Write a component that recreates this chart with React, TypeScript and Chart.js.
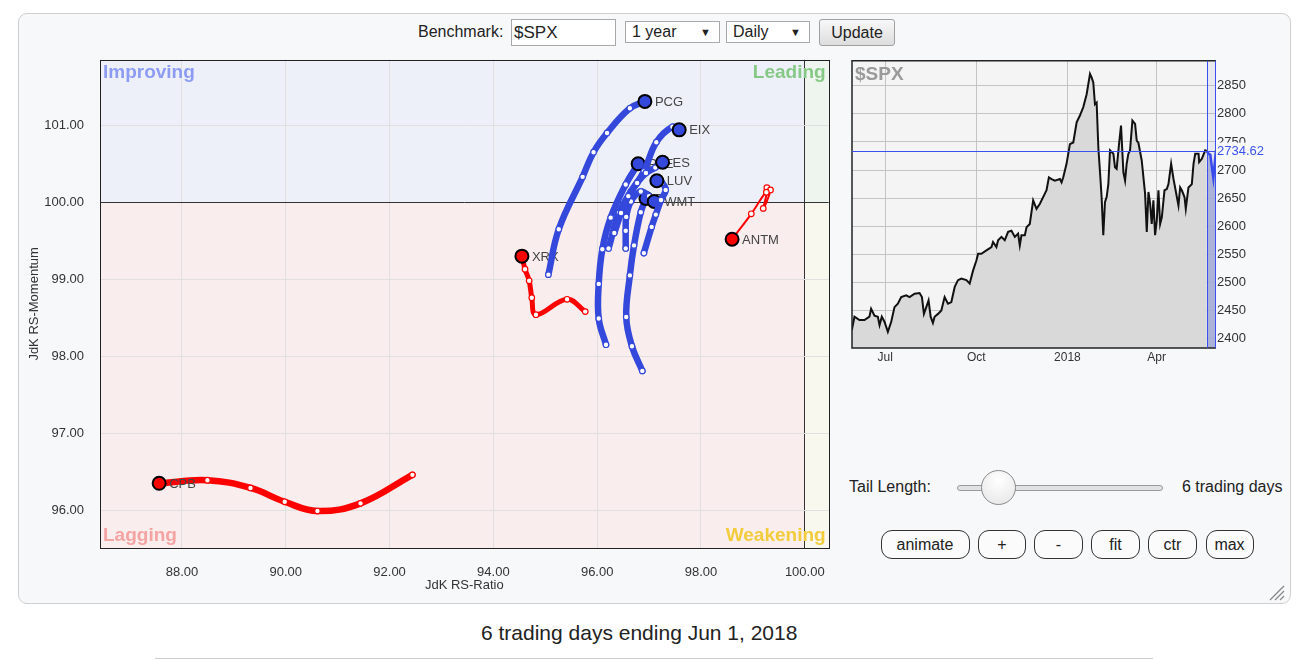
import React, { useEffect, useRef } from 'react';
import { Chart, registerables } from 'chart.js';

Chart.register(...registerables);

const FONT = "'Liberation Sans', Arial, Helvetica, sans-serif";

// ---------------- RRG data ----------------
const ratioTicks = [88, 90, 92, 94, 96, 98, 100];
const momentumTicks = [96, 97, 98, 99, 100, 101];

const pcgRatio = [95.06, 95.26, 95.72, 95.93, 96.19, 96.63, 96.92];
const pcgMomentum = [99.06, 99.65, 100.33, 100.65, 100.9, 101.22, 101.31];

const eixRatio = [96.22, 96.42, 96.65, 96.9, 97.14, 97.45, 97.58];
const eixMomentum = [99.4, 99.86, 100.14, 100.4, 100.78, 100.98, 100.94];

const esRatio = [96.33, 96.46, 96.6, 96.77, 96.94, 97.12, 97.26];
const esMomentum = [99.6, 99.86, 100.08, 100.25, 100.38, 100.45, 100.52];

const pfeRatio = [96.17, 96.03, 96.03, 96.1, 96.26, 96.55, 96.79];
const pfeMomentum = [98.15, 98.49, 98.94, 99.39, 99.8, 100.23, 100.5];

const luvRatio = [96.9, 97.05, 97.13, 97.23, 97.32, 97.25, 97.15];
const luvMomentum = [99.34, 99.68, 99.84, 100.03, 100.16, 100.25, 100.28];

const wmtRatio = [96.55, 96.55, 96.56, 96.65, 96.84, 97.0, 97.1];
const wmtMomentum = [99.4, 99.63, 99.81, 100.01, 100.14, 100.08, 100.01];

const tRatio = [96.87, 96.67, 96.56, 96.63, 96.71, 96.84, 96.94];
const tMomentum = [97.81, 98.13, 98.51, 99.05, 99.44, 99.87, 100.05];

const antmRatio = [99.27, 99.34, 99.2, 99.26, 98.97, 98.6];
const antmMomentum = [100.19, 100.16, 99.92, 100.13, 99.85, 99.52];

const xrxRatio = [95.77, 95.42, 94.82, 94.74, 94.69, 94.61, 94.55];
const xrxMomentum = [98.58, 98.74, 98.54, 98.76, 98.98, 99.13, 99.3];

const cpbRatio = [92.44, 91.44, 90.61, 89.98, 89.32, 88.49, 87.56];
const cpbMomentum = [96.46, 96.09, 95.99, 96.11, 96.29, 96.39, 96.35];

const BLUE = '#3448dc';
const RED = '#ff0000';

const series = [
  { name: 'ES', ratio: esRatio, momentum: esMomentum, color: BLUE, width: 6.5 },
  { name: 'PCG', ratio: pcgRatio, momentum: pcgMomentum, color: BLUE, width: 6.5 },
  { name: 'EIX', ratio: eixRatio, momentum: eixMomentum, color: BLUE, width: 6.5 },
  { name: 'LUV', ratio: luvRatio, momentum: luvMomentum, color: BLUE, width: 6.5 },
  { name: 'WMT', ratio: wmtRatio, momentum: wmtMomentum, color: BLUE, width: 6.5 },
  { name: 'T', ratio: tRatio, momentum: tMomentum, color: BLUE, width: 6.5 },
  { name: 'PFE', ratio: pfeRatio, momentum: pfeMomentum, color: BLUE, width: 6.5 },
  { name: 'ANTM', ratio: antmRatio, momentum: antmMomentum, color: RED, width: 2 },
  { name: 'XRX', ratio: xrxRatio, momentum: xrxMomentum, color: RED, width: 5 },
  { name: 'CPB', ratio: cpbRatio, momentum: cpbMomentum, color: RED, width: 6.5 },
];

// ---------------- $SPX data ----------------
const spxTickDays = [0, 92, 184, 274];
const spxTickLabels = ['Jul', 'Oct', '2018', 'Apr'];
const spxPriceTicks = [2400, 2450, 2500, 2550, 2600, 2650, 2700, 2750, 2800, 2850];

const spxDay = [
  -33.7, -31, -26, -20.9, -15.9, -14.2, -10.8, -7.4, -5.7, -3.4,
  -0.7, 2.7, 6.1, 9.4, 12.8, 16.2, 21.2, 24.6, 29.7, 34.7,
  37.1, 39.1, 41.5, 43.8, 45.9, 48.2, 49.9, 53.3, 56.7, 60,
  63.4, 66.8, 70.2, 73.5, 76.9, 82, 85.3, 88.7, 92.1, 93.8,
  97.1, 102.2, 107.3, 108.9, 112.3, 114, 117.4, 120.7, 124.1, 127.5,
  130.9, 134.2, 135.9, 137.6, 141, 142.7, 146, 149.4, 152.8, 156.2,
  161.2, 162.9, 165.3, 168, 171.3, 176.4, 178.1, 179.8, 183.1, 186.5,
  189.9, 193.3, 196.6, 200, 203.4, 206.8, 208.4, 210.1, 211.8, 213.5,
  215.2, 216.9, 218.5, 220.2, 221.9, 223.6, 225.3, 227, 230.4, 232,
  233.7, 236.1, 238.1, 240.5, 242.2, 243.8, 245.5, 247.2, 249.6, 252.3,
  254, 255.6, 259, 262.4, 264.1, 265.8, 267.5, 269.1, 270.8, 272.5,
  274.2, 275.9, 277.6, 279.3, 282, 284.3, 286, 288.7, 291.1, 292.7,
  296.1, 297.8, 299.5, 302.2, 303.5, 306.2, 309.6, 311.3, 313, 316.4,
  317, 319.7, 323.1,
];
const spxClose = [
  2415, 2439, 2433, 2433, 2439, 2453, 2441, 2439, 2424, 2439,
  2430, 2412, 2430, 2456, 2462, 2474, 2477, 2474, 2480, 2481,
  2474, 2444, 2456, 2468, 2439, 2428, 2439, 2444, 2450, 2474,
  2462, 2465, 2492, 2504, 2507, 2504, 2498, 2521, 2539, 2551,
  2551, 2557, 2563, 2572, 2563, 2575, 2581, 2575, 2590, 2592,
  2581, 2587, 2566, 2584, 2584, 2598, 2604, 2646, 2631, 2640,
  2658, 2664, 2687, 2684, 2681, 2684, 2678, 2687, 2711, 2746,
  2749, 2785, 2797, 2812, 2835, 2871, 2865, 2856, 2817, 2820,
  2740, 2696, 2652, 2584, 2643, 2652, 2675, 2735, 2729, 2705,
  2702, 2746, 2779, 2696, 2681, 2711, 2729, 2735, 2788, 2782,
  2752, 2749, 2717, 2658, 2590, 2661, 2640, 2604, 2646, 2584,
  2610, 2664, 2604, 2616, 2664, 2666, 2675, 2711, 2684, 2669,
  2637, 2669, 2664, 2652, 2631, 2669, 2675, 2711, 2729, 2729,
  2714, 2720, 2735,
];
const tailDay = [324.6, 326.5, 328.3, 330.2, 331.3, 333.9];
const tailClose = [2734, 2729, 2727, 2700, 2686, 2734.62];

// ---------------- RRG chart ----------------
const rrgPlugin = {
  id: 'rrgDecor',
  beforeDraw(chart: any) {
    const { ctx, chartArea: a, scales } = chart;
    const cx = scales.x.getPixelForValue(100);
    const cy = scales.y.getPixelForValue(100);
    ctx.save();
    ctx.fillStyle = '#eef0f9';
    ctx.fillRect(a.left, a.top, cx - a.left, cy - a.top);
    ctx.fillStyle = '#eef5ee';
    ctx.fillRect(cx, a.top, a.right - cx, cy - a.top);
    ctx.fillStyle = '#f9eded';
    ctx.fillRect(a.left, cy, cx - a.left, a.bottom - cy);
    ctx.fillStyle = '#f9f8ee';
    ctx.fillRect(cx, cy, a.right - cx, a.bottom - cy);
    ctx.restore();
  },
  beforeDatasetsDraw(chart: any) {
    const { ctx, chartArea: a } = chart;
    ctx.save();
    ctx.font = `bold 19px ${FONT}`;
    ctx.textBaseline = 'middle';
    ctx.textAlign = 'left';
    ctx.fillStyle = '#8d9cf2';
    ctx.fillText('Improving', a.left + 3, a.top + 13);
    ctx.fillStyle = '#f5a3a3';
    ctx.fillText('Lagging', a.left + 3, a.bottom - 12);
    ctx.textAlign = 'right';
    ctx.fillStyle = '#86c986';
    ctx.fillText('Leading', a.right - 3, a.top + 13);
    ctx.fillStyle = '#f2cc3c';
    ctx.fillText('Weakening', a.right - 3, a.bottom - 12);
    ctx.restore();
  },
  afterDatasetDraw(chart: any, args: any) {
    const { ctx } = chart;
    const pts = args.meta.data;
    const head = pts[pts.length - 1];
    if (!head) return;
    ctx.save();
    ctx.font = `13px ${FONT}`;
    ctx.fillStyle = '#444';
    ctx.textBaseline = 'middle';
    ctx.textAlign = 'left';
    ctx.fillText(chart.data.datasets[args.index].label, head.x + 10, head.y + 1);
    ctx.restore();
  },
  afterDraw(chart: any) {
    const { ctx, chartArea: a } = chart;
    ctx.save();
    ctx.strokeStyle = '#222';
    ctx.lineWidth = 1;
    ctx.strokeRect(Math.round(a.left) + 0.5, Math.round(a.top) + 0.5, Math.round(a.right - a.left), Math.round(a.bottom - a.top));
    ctx.restore();
  },
};

function RRGChart() {
  const ref = useRef<HTMLCanvasElement>(null);
  useEffect(() => {
    const datasets = series.map((s) => {
      const n = s.ratio.length;
      const isHead = (c: any) => c.dataIndex === n - 1;
      return {
        label: s.name,
        data: s.ratio.map((x, i) => ({ x, y: s.momentum[i] })),
        showLine: true,
        borderColor: s.color,
        borderWidth: s.width,
        tension: 0.4,
        borderCapStyle: 'round',
        borderJoinStyle: 'round',
        pointRadius: (c: any) => (isHead(c) ? 6.5 : 2.8),
        pointHoverRadius: (c: any) => (isHead(c) ? 6.5 : 2.8),
        pointBackgroundColor: (c: any) => (isHead(c) ? s.color : '#ffffff'),
        pointBorderColor: (c: any) => (isHead(c) ? '#000000' : s.color),
        pointBorderWidth: (c: any) => (isHead(c) ? 2 : 1.2),
      };
    });
    const chart = new Chart(ref.current as HTMLCanvasElement, {
      type: 'scatter',
      data: { datasets } as any,
      options: {
        animation: false,
        responsive: false,
        events: [],
        layout: { padding: { left: 0, right: 11, top: 10, bottom: 0 } },
        plugins: { legend: { display: false }, tooltip: { enabled: false } },
        scales: {
          x: {
            type: 'linear',
            min: 86.42,
            max: 100.46,
            afterBuildTicks: (s: any) => {
              s.ticks = ratioTicks.map((v) => ({ value: v }));
            },
            afterFit: (s: any) => {
              s.height = 52;
            },
            ticks: {
              callback: (v: any) => Number(v).toFixed(2),
              padding: 17,
              font: { family: FONT, size: 13 },
              color: '#333',
              maxRotation: 0,
              autoSkip: false,
            },
            grid: {
              color: (c: any) => (c.tick && c.tick.value === 100 ? '#333333' : '#e0e0e0'),
              drawTicks: false,
            },
            border: { display: false },
            title: {
              display: true,
              text: 'JdK RS-Ratio',
              font: { family: FONT, size: 13 },
              color: '#333',
              padding: { top: 0, bottom: 7 },
            },
          },
          y: {
            type: 'linear',
            min: 95.51,
            max: 101.85,
            afterBuildTicks: (s: any) => {
              s.ticks = momentumTicks.map((v) => ({ value: v }));
            },
            afterFit: (s: any) => {
              s.width = 80;
            },
            ticks: {
              callback: (v: any) => Number(v).toFixed(2),
              padding: 16,
              font: { family: FONT, size: 13 },
              color: '#333',
            },
            grid: {
              color: (c: any) => (c.tick && c.tick.value === 100 ? '#333333' : '#e0e0e0'),
              drawTicks: false,
            },
            border: { display: false },
            title: {
              display: true,
              text: 'JdK RS-Momentum',
              font: { family: FONT, size: 13 },
              color: '#333',
              padding: { top: 7, bottom: 0 },
            },
          },
        },
      } as any,
      plugins: [rrgPlugin as any],
    });
    return () => chart.destroy();
  }, []);
  return (
    <canvas
      ref={ref}
      width={822}
      height={564}
      style={{ position: 'absolute', left: 20, top: 36, width: 822, height: 564 }}
    />
  );
}

// ---------------- $SPX mini chart ----------------
const miniPlugin = {
  id: 'miniDecor',
  beforeDraw(chart: any) {
    const { ctx, chartArea: a } = chart;
    ctx.save();
    ctx.fillStyle = '#f4f4f4';
    ctx.fillRect(a.left, a.top, a.right - a.left, a.bottom - a.top);
    ctx.restore();
  },
  afterDatasetsDraw(chart: any) {
    const { ctx, chartArea: a, scales } = chart;
    const bx = Math.round(scales.x.getPixelForValue(tailDay[0])) + 0.5;
    const hy = Math.round(scales.y.getPixelForValue(tailClose[tailClose.length - 1])) + 0.5;
    ctx.save();
    ctx.fillStyle = 'rgba(120,130,210,0.10)';
    ctx.fillRect(bx, a.top, a.right - bx, a.bottom - a.top);
    ctx.strokeStyle = '#222';
    ctx.lineWidth = 1.5;
    ctx.beginPath();
    ctx.moveTo(a.right, a.top);
    ctx.lineTo(a.left, a.top);
    ctx.lineTo(a.left, a.bottom);
    ctx.lineTo(a.right, a.bottom);
    ctx.stroke();
    ctx.strokeStyle = '#3b4ff0';
    ctx.lineWidth = 1;
    ctx.beginPath();
    ctx.moveTo(bx, a.top);
    ctx.lineTo(bx, a.bottom);
    ctx.moveTo(Math.round(a.right) - 0.5, a.top);
    ctx.lineTo(Math.round(a.right) - 0.5, a.bottom);
    ctx.moveTo(a.left, hy);
    ctx.lineTo(a.right, hy);
    ctx.stroke();
    ctx.font = `bold 19px ${FONT}`;
    ctx.fillStyle = '#9a9a9a';
    ctx.textBaseline = 'top';
    ctx.textAlign = 'left';
    ctx.fillText('$SPX', a.left + 3, a.top + 4);
    ctx.restore();
  },
  afterDraw(chart: any) {
    const { ctx, chartArea: a, scales } = chart;
    const last = tailClose[tailClose.length - 1];
    const hy = scales.y.getPixelForValue(last);
    ctx.save();
    ctx.fillStyle = 'rgba(248,249,251,0.95)';
    ctx.fillRect(a.right + 1, hy - 8, 60, 16);
    ctx.font = `13px ${FONT}`;
    ctx.fillStyle = '#3b55e8';
    ctx.textBaseline = 'middle';
    ctx.textAlign = 'left';
    ctx.fillText(last.toFixed(2), a.right + 1, hy + 1);
    ctx.restore();
  },
};

function MiniChart() {
  const ref = useRef<HTMLCanvasElement>(null);
  useEffect(() => {
    const mainData = spxDay.map((x, i) => ({ x, y: spxClose[i] }));
    mainData.push({ x: tailDay[0], y: tailClose[0] });
    const tailData = tailDay.map((x, i) => ({ x, y: tailClose[i] }));
    const chart = new Chart(ref.current as HTMLCanvasElement, {
      type: 'line',
      data: {
        datasets: [
          {
            data: tailData,
            borderColor: '#3344ee',
            borderWidth: 2.5,
            backgroundColor: 'rgba(170,176,214,0.9)',
            fill: 'start',
            pointRadius: 0,
            tension: 0,
          },
          {
            data: mainData,
            borderColor: '#111111',
            borderWidth: 2,
            backgroundColor: '#d9d9d9',
            fill: 'start',
            pointRadius: 0,
            tension: 0,
          },
        ],
      } as any,
      options: {
        animation: false,
        responsive: false,
        events: [],
        layout: { padding: { left: 7, right: 0, top: 5, bottom: 0 } },
        plugins: { legend: { display: false }, tooltip: { enabled: false } },
        scales: {
          x: {
            type: 'linear',
            min: -33.5,
            max: 334,
            afterBuildTicks: (s: any) => {
              s.ticks = spxTickDays.map((v) => ({ value: v }));
            },
            afterFit: (s: any) => {
              s.height = 17;
            },
            ticks: {
              callback: (v: any) => spxTickLabels[spxTickDays.indexOf(Number(v))] ?? '',
              padding: 2,
              font: { family: FONT, size: 12 },
              color: '#333',
              maxRotation: 0,
              autoSkip: false,
            },
            grid: { color: '#c4c4c4', drawTicks: false },
            border: { display: false },
          },
          y: {
            type: 'linear',
            position: 'right',
            min: 2383.3,
            max: 2894.4,
            afterBuildTicks: (s: any) => {
              s.ticks = spxPriceTicks.map((v) => ({ value: v }));
            },
            afterFit: (s: any) => {
              s.width = 49;
            },
            ticks: {
              callback: (v: any) => String(v),
              padding: 1,
              font: { family: FONT, size: 13 },
              color: '#333',
            },
            grid: { color: '#c4c4c4', drawTicks: false },
            border: { display: false },
          },
        },
      } as any,
      plugins: [miniPlugin as any],
    });
    return () => chart.destroy();
  }, []);
  return (
    <canvas
      ref={ref}
      width={420}
      height={313}
      style={{ position: 'absolute', left: 845, top: 52, width: 420, height: 313 }}
    />
  );
}

// ---------------- page ----------------
const abs = (l: number, t: number, extra: React.CSSProperties = {}): React.CSSProperties => ({
  position: 'absolute',
  left: l,
  top: t,
  ...extra,
});

const buttons = [
  { t: 'animate', l: 880.5, w: 89 },
  { t: '+', l: 978, w: 48 },
  { t: '-', l: 1034, w: 49 },
  { t: 'fit', l: 1091, w: 49 },
  { t: 'ctr', l: 1148, w: 49 },
  { t: 'max', l: 1205.5, w: 48 },
];

export default function App() {
  return (
    <div style={{ fontFamily: FONT, color: '#222' }}>
      <div
        style={abs(18, 13, {
          width: 1273,
          height: 591,
          boxSizing: 'border-box',
          border: '1px solid #cfcfcf',
          borderRadius: 9,
          background: '#f7f8fa',
        })}
      />
      <div style={abs(418, 23, { fontSize: 16, lineHeight: '18px', whiteSpace: 'nowrap' })}>Benchmark:</div>
      <div
        style={abs(511, 19, {
          width: 105,
          height: 27,
          boxSizing: 'border-box',
          border: '1px solid #a9a9a9',
          background: '#fff',
          fontSize: 17,
          lineHeight: '25px',
          paddingLeft: 2,
        })}
      >
        $SPX
      </div>
      {[
        { t: '1 year', l: 625, w: 95 },
        { t: 'Daily', l: 726, w: 84 },
      ].map((s) => (
        <div
          key={s.t}
          style={abs(s.l, 21, {
            width: s.w,
            height: 22,
            boxSizing: 'border-box',
            border: '1px solid #a9a9a9',
            background: '#fff',
            fontSize: 16,
            lineHeight: '20px',
          })}
        >
          <span style={{ position: 'absolute', left: 6, top: 0 }}>{s.t}</span>
          <span style={{ position: 'absolute', right: 8, top: 0, fontSize: 11 }}>▼</span>
        </div>
      ))}
      <div
        style={abs(819, 19, {
          width: 76,
          height: 27,
          boxSizing: 'border-box',
          border: '1px solid #a0a0a0',
          borderRadius: 3,
          background: 'linear-gradient(#f8f8f8, #dddddd)',
          fontSize: 16,
          lineHeight: '25px',
          textAlign: 'center',
        })}
      >
        Update
      </div>

      <RRGChart />
      <MiniChart />

      <div style={abs(849, 478, { fontSize: 16, lineHeight: '18px', whiteSpace: 'nowrap' })}>Tail Length:</div>
      <div
        style={abs(957, 485, {
          width: 206,
          height: 6,
          boxSizing: 'border-box',
          border: '1px solid #9a9a9a',
          borderRadius: 4,
          background: '#e2e2e2',
        })}
      />
      <div
        style={abs(981, 470, {
          width: 35,
          height: 35,
          boxSizing: 'border-box',
          border: '1px solid #8a8a8a',
          borderRadius: '50%',
          background: 'radial-gradient(circle at 50% 30%, #ffffff, #e4e4e4)',
        })}
      />
      <div style={abs(1182, 478, { fontSize: 16, lineHeight: '18px', whiteSpace: 'nowrap' })}>6 trading days</div>
      {buttons.map((b) => (
        <div
          key={b.t}
          style={abs(b.l, 529.5, {
            width: b.w,
            height: 29.5,
            boxSizing: 'border-box',
            border: '1px solid #333',
            borderRadius: 11,
            background: '#fbfbfb',
            fontSize: 16,
            lineHeight: '27px',
            textAlign: 'center',
          })}
        >
          {b.t}
        </div>
      ))}
      <svg style={abs(1266, 582)} width={20} height={20}>
        <line x1={18} y1={4} x2={4} y2={18} stroke="#888" strokeWidth={1.3} />
        <line x1={18} y1={9} x2={9} y2={18} stroke="#888" strokeWidth={1.3} />
        <line x1={18} y1={14} x2={14} y2={18} stroke="#888" strokeWidth={1.3} />
      </svg>
      <div style={abs(481, 621, { fontSize: 21, lineHeight: '24px', whiteSpace: 'nowrap', color: '#222' })}>
        6 trading days ending Jun 1, 2018
      </div>
      <div style={abs(155, 658, { width: 998, height: 1, background: '#cccccc' })} />
    </div>
  );
}
